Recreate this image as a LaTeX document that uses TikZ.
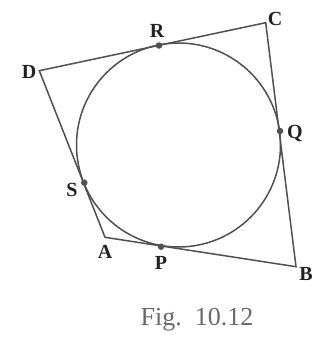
\documentclass[tikz,border=0pt]{standalone}
\usepackage{fontspec}
\setmainfont{Liberation Serif}
\definecolor{ln}{HTML}{505050}
\definecolor{lab}{HTML}{222222}
\begin{document}
\begin{tikzpicture}[x=1pt,y=-1pt,
  edge/.style={draw=ln,line width=1.5pt},
  dotp/.style={circle,fill=ln,inner sep=0pt,minimum size=6.5pt},
  lbl/.style={text=lab,font=\fontsize{20}{20}\selectfont\bfseries,inner sep=0pt}]
\useasboundingbox (0,0) rectangle (321,341);
\fill[white] (0,0) rectangle (321,341);
% corners
\coordinate (A) at (105,237.3);
\coordinate (B) at (296,266.7);
\coordinate (C) at (265.7,22.7);
\coordinate (D) at (39.3,70.7);
% circle
\coordinate (O) at (178.5,145);
\draw[edge] (O) circle[radius=102];
% quadrilateral
\draw[edge,line join=miter] (A) -- (B) -- (C) -- (D) -- cycle;
% tangent points
\node[dotp] (R) at (159,45.5) {};
\node[dotp] (Q) at (280,131) {};
\node[dotp] (S) at (84.3,182.7) {};
\node[dotp] (P) at (161,246.7) {};
% labels
\node[lbl] (lC) at (275,19) {C};
\node[lbl] (lR) at (157,31) {R};
\node[lbl] (lD) at (29,72) {D};
\node[lbl] (lQ) at (295,133) {Q};
\node[lbl] (lS) at (72,190) {S};
\node[lbl] (lA) at (105,252) {A};
\node[lbl] (lP) at (161,263) {P};
\node[lbl] (lB) at (306,274) {B};
\node[text=ln!85,font=\fontsize{26}{26}\selectfont,inner sep=0pt] (fig) at (197,320) {Fig.\ \ 10.12};
\end{tikzpicture}
\end{document}
